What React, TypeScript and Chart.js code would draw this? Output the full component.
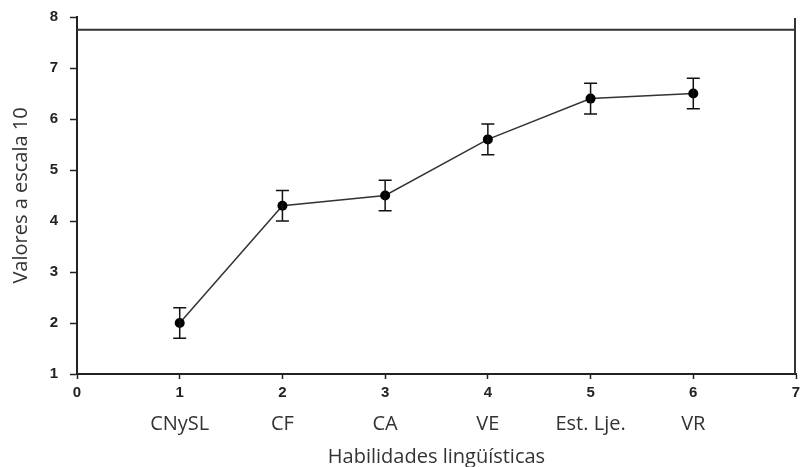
import React, { useEffect, useRef } from "react";
import { Chart, registerables } from "chart.js";

Chart.register(...registerables);

// ---- data ----
const xValues = [1, 2, 3, 4, 5, 6];
const categories = ["CNySL", "CF", "CA", "VE", "Est. Lje.", "VR"];
const means = [2.0, 4.3, 4.5, 5.6, 6.4, 6.5];
const errors = [0.3, 0.3, 0.3, 0.3, 0.3, 0.3];
const xMin = 0;
const xMax = 7;
const yMin = 1;
const yMax = 8;
const topLineValue = 7.75;
const xTitle = "Habilidades lingüísticas";
const yTitle = "Valores a escala 10";

const framePlugin = {
  id: "frameLines",
  beforeDatasetsDraw(chart: any) {
    const { ctx, chartArea, scales } = chart;
    const y = scales.y;
    const yTop = y.getPixelForValue(topLineValue);
    ctx.save();
    ctx.strokeStyle = "#333";
    ctx.lineWidth = 2;
    ctx.beginPath();
    ctx.moveTo(chartArea.left, yTop);
    ctx.lineTo(chartArea.right - 1, yTop);
    ctx.moveTo(chartArea.right - 1, chartArea.top + 1);
    ctx.lineTo(chartArea.right - 1, chartArea.bottom);
    ctx.stroke();
    ctx.restore();
  },
};

const errorBarPlugin = {
  id: "errorBars",
  afterDatasetsDraw(chart: any) {
    const { ctx, scales } = chart;
    const x = scales.x;
    const y = scales.y;
    ctx.save();
    ctx.strokeStyle = "#111";
    ctx.lineWidth = 1.5;
    xValues.forEach((xv, i) => {
      const px = x.getPixelForValue(xv);
      const top = y.getPixelForValue(means[i] + errors[i]);
      const bot = y.getPixelForValue(means[i] - errors[i]);
      ctx.beginPath();
      ctx.moveTo(px, top);
      ctx.lineTo(px, bot);
      ctx.moveTo(px - 6.5, top);
      ctx.lineTo(px + 6.5, top);
      ctx.moveTo(px - 6.5, bot);
      ctx.lineTo(px + 6.5, bot);
      ctx.stroke();
    });
    ctx.restore();
  },
};

const numFont = { family: "'Liberation Sans', Arial, sans-serif", size: 15, weight: "bold" };

export default function App() {
  const ref = useRef<HTMLCanvasElement>(null);

  useEffect(() => {
    const chart = new Chart(ref.current as HTMLCanvasElement, {
      type: "line",
      data: {
        datasets: [
          {
            data: xValues.map((xv, i) => ({ x: xv, y: means[i] })),
            borderColor: "#333",
            borderWidth: 1.5,
            pointRadius: 5,
            pointBackgroundColor: "#000",
            pointBorderColor: "#000",
            pointBorderWidth: 0,
            tension: 0,
            fill: false,
          },
        ],
      },
      options: {
        responsive: false,
        animation: false,
        devicePixelRatio: 1,
        layout: { padding: { top: 17, right: 3, left: 0, bottom: 0 } },
        plugins: {
          legend: { display: false },
          tooltip: { enabled: false },
        },
        scales: {
          x: {
            type: "linear",
            position: "bottom",
            weight: 0,
            min: xMin,
            max: xMax,
            afterFit: (scale: any) => {
              scale.height = 32;
              scale.paddingRight = 3;
              scale.paddingLeft = 0;
            },
            ticks: {
              stepSize: 1,
              autoSkip: false,
              maxRotation: 0,
              padding: 5,
              color: "#222",
              font: numFont,
            },
            grid: {
              display: true,
              drawOnChartArea: false,
              drawTicks: true,
              tickLength: 5,
              tickColor: "#222",
              tickWidth: 1.5,
            },
            border: { display: true, color: "#222", width: 2 },
          },
          x2: {
            type: "linear",
            position: "bottom",
            weight: 1,
            min: xMin,
            max: xMax,
            afterFit: (scale: any) => {
              scale.height = 61;
              scale.paddingRight = 0;
              scale.paddingLeft = 0;
            },
            ticks: {
              stepSize: 1,
              autoSkip: false,
              maxRotation: 0,
              padding: 6,
              color: "#333",
              font: { family: "'Open Sans', sans-serif", size: 20 },
              callback: (v: any) => {
                const i = xValues.indexOf(Number(v));
                return i >= 0 ? categories[i] : "";
              },
            },
            grid: { display: false, drawTicks: false },
            border: { display: false },
            title: {
              display: true,
              text: xTitle,
              color: "#333",
              font: { family: "'Open Sans', sans-serif", size: 20, lineHeight: 1 },
              padding: { top: 0, bottom: 0 },
            },
          },
          y: {
            type: "linear",
            min: yMin,
            max: yMax,
            afterFit: (scale: any) => {
              scale.width = 77;
              scale.paddingTop = 0;
              scale.paddingBottom = 0;
            },
            ticks: {
              stepSize: 1,
              padding: 12,
              color: "#222",
              font: numFont,
            },
            grid: {
              display: true,
              drawOnChartArea: false,
              drawTicks: true,
              tickLength: 7,
              tickColor: "#222",
              tickWidth: 1.5,
            },
            border: { display: true, color: "#222", width: 2 },
            title: {
              display: true,
              text: yTitle,
              color: "#333",
              font: { family: "'Open Sans', sans-serif", size: 20, lineHeight: 1.2 },
              padding: { top: 9, bottom: 0 },
            },
          },
        },
      },
      plugins: [framePlugin, errorBarPlugin],
    } as any);
    return () => chart.destroy();
  }, []);

  return (
    <div style={{ position: "absolute", left: 0, top: 0, width: 801, height: 467, background: "#fff" }}>
      <canvas ref={ref} width={801} height={467} style={{ display: "block" }} />
    </div>
  );
}
